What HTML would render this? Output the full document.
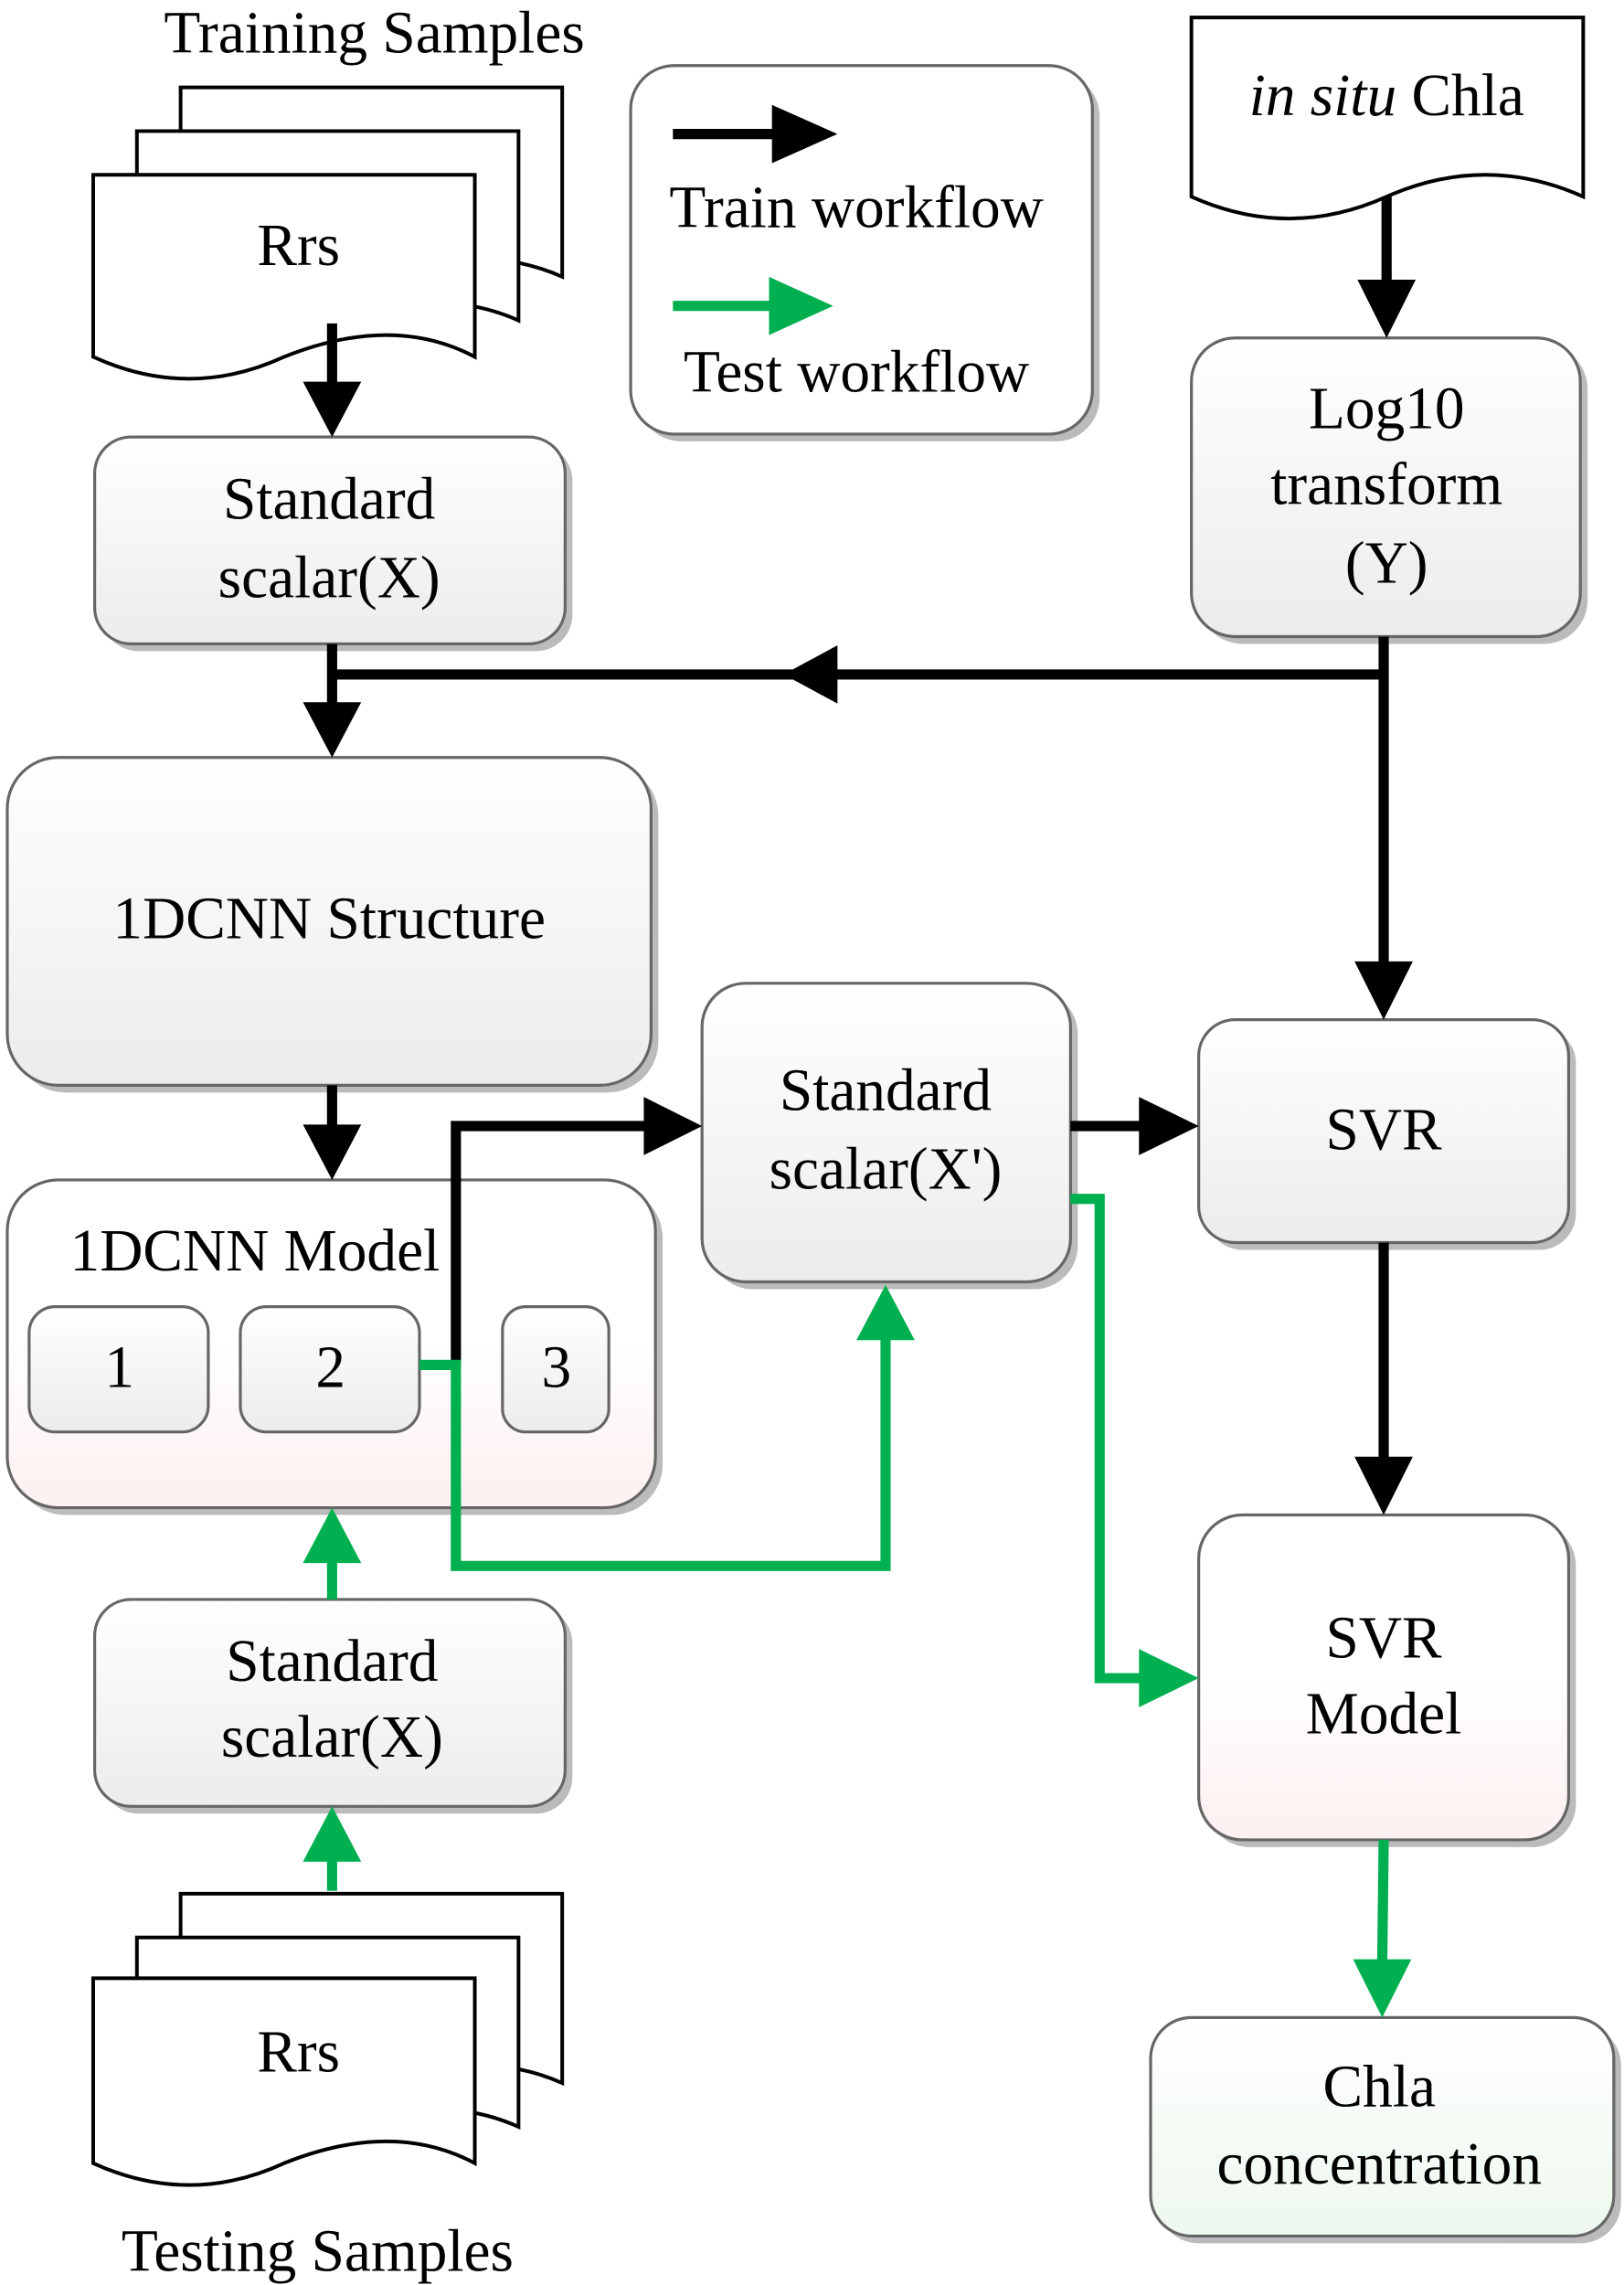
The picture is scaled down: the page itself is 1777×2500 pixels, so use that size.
<!DOCTYPE html>
<html><head><meta charset="utf-8"><style>
html,body{margin:0;padding:0;background:#fff;}
svg{display:block;}
text{font-family:"Liberation Serif",serif;fill:#000;}
</style></head><body>
<svg width="1777" height="2500" viewBox="0 0 1115 1568.6" preserveAspectRatio="none" xmlns="http://www.w3.org/2000/svg">
<defs>
<linearGradient id="g" x1="0" y1="0" x2="0" y2="1"><stop offset="0" stop-color="#fff"/><stop offset="1" stop-color="#ececec"/></linearGradient>
<linearGradient id="p" x1="0" y1="0" x2="0" y2="1"><stop offset="0" stop-color="#fff"/><stop offset="0.5" stop-color="#fff"/><stop offset="1" stop-color="#fdf0f0"/></linearGradient>
<linearGradient id="gr" x1="0" y1="0" x2="0" y2="1"><stop offset="0" stop-color="#fff"/><stop offset="1" stop-color="#eef8ee"/></linearGradient>
</defs>
<g stroke="#666" stroke-width="2">
<g fill="#bbb" stroke="none">
<rect x="70" y="305" width="323" height="142" rx="25"/>
<rect x="10" y="525" width="442" height="225" rx="35"/>
<rect x="10" y="815" width="445" height="225" rx="35"/>
<rect x="70" y="1103" width="323" height="142" rx="25"/>
<rect x="487" y="680" width="253" height="205" rx="30"/>
<rect x="438" y="50" width="317" height="253" rx="30"/>
<rect x="823" y="237" width="267" height="205" rx="30"/>
<rect x="828" y="705" width="254" height="153" rx="25"/>
<rect x="828" y="1045" width="254" height="223" rx="30"/>
<rect x="795" y="1390" width="318" height="150" rx="28"/>
</g>
<rect x="65" y="300" width="323" height="142" rx="25" fill="url(#g)"/>
<rect x="5" y="520" width="442" height="225" rx="35" fill="url(#g)"/>
<rect x="5" y="810" width="445" height="225" rx="35" fill="url(#p)"/>
<rect x="20" y="897" width="123" height="86" rx="18" fill="url(#g)"/>
<rect x="165" y="897" width="123" height="86" rx="18" fill="url(#g)"/>
<rect x="345" y="897" width="73" height="86" rx="16" fill="url(#g)"/>
<rect x="65" y="1098" width="323" height="142" rx="25" fill="url(#g)"/>
<rect x="482" y="675" width="253" height="205" rx="30" fill="url(#g)"/>
<rect x="433" y="45" width="317" height="253" rx="30" fill="#fff"/>
<rect x="818" y="232" width="267" height="205" rx="30" fill="url(#g)"/>
<rect x="823" y="700" width="254" height="153" rx="25" fill="url(#g)"/>
<rect x="823" y="1040" width="254" height="223" rx="30" fill="url(#p)"/>
<rect x="790" y="1385" width="318" height="150" rx="28" fill="url(#gr)"/>
</g>
<g fill="#fff" stroke="#000" stroke-width="2.5">
<path d="M124 60 H386 V190 Q330 165 255 190 Q190 215 124 190 Z"/>
<path d="M94 90 H356 V220 Q300 195 225 220 Q160 245 94 220 Z"/>
<path d="M64 120 H326 V245 Q270 215 195 245 Q130 275 64 245 Z"/>
<path d="M124 1300 H386 V1430 Q330 1405 255 1430 Q190 1455 124 1430 Z"/>
<path d="M94 1330 H356 V1460 Q300 1435 225 1460 Q160 1485 94 1460 Z"/>
<path d="M64 1358 H326 V1485 Q270 1455 195 1485 Q130 1515 64 1485 Z"/>
<path d="M818 12 H1087 V135 Q1020 105 952 135 Q885 165 818 135 Z"/>
</g>
<g stroke="#000" stroke-width="7" fill="none">
<line x1="228" y1="222" x2="228" y2="265"/>
<line x1="228" y1="442" x2="228" y2="485"/>
<line x1="228" y1="463" x2="950" y2="463"/>
<line x1="228" y1="745" x2="228" y2="775"/>
<polyline points="313,937 313,773 445,773"/>
<line x1="462" y1="92" x2="535" y2="92"/>
<line x1="952" y1="135" x2="952" y2="195"/>
<line x1="950" y1="437" x2="950" y2="662"/>
<line x1="735" y1="773" x2="785" y2="773"/>
<line x1="950" y1="853" x2="950" y2="1002"/>
</g>
<g fill="#000">
<polygon points="208,262 248,262 228,300"/>
<polygon points="208,482 248,482 228,520"/>
<polygon points="208,772 248,772 228,810"/>
<polygon points="442,753 442,793 482,773"/>
<polygon points="530,72 530,112 575,92"/>
<polygon points="932,192 972,192 952,232"/>
<polygon points="930,660 970,660 950,700"/>
<polygon points="782,753 782,793 823,773"/>
<polygon points="930,1000 970,1000 950,1040"/>
<polygon points="575,443 575,483 538,463"/>
</g>
<g stroke="#00b050" stroke-width="7" fill="none">
<polyline points="288,937 313,937 313,1075 608,1075 608,918"/>
<line x1="462" y1="210" x2="530" y2="210"/>
<polyline points="735,823 755,823 755,1152 785,1152"/>
<line x1="950" y1="1263" x2="949" y2="1348"/>
<line x1="228" y1="1098" x2="228" y2="1070"/>
<line x1="228" y1="1298" x2="228" y2="1275"/>
</g>
<g fill="#00b050">
<polygon points="588,920 628,920 608,882"/>
<polygon points="528,190 528,230 572,210"/>
<polygon points="782,1132 782,1172 823,1152"/>
<polygon points="929,1345 969,1345 949,1385"/>
<polygon points="208,1073 248,1073 228,1035"/>
<polygon points="208,1278 248,1278 228,1240"/>
</g>
<g font-size="41" text-anchor="middle">
<text x="257" y="36">Training Samples</text>
<text x="205" y="182">Rrs</text>
<text x="226" y="356">Standard</text>
<text x="226" y="410">scalar(X)</text>
<text x="226" y="644">1DCNN Structure</text>
<text x="175" y="872">1DCNN Model</text>
<text x="82" y="952">1</text>
<text x="227" y="952">2</text>
<text x="382" y="952">3</text>
<text x="228" y="1154">Standard</text>
<text x="228" y="1206">scalar(X)</text>
<text x="205" y="1422">Rrs</text>
<text x="218" y="1559">Testing Samples</text>
<text x="608" y="762">Standard</text>
<text x="608" y="816">scalar(X')</text>
<text x="588" y="156">Train workflow</text>
<text x="588" y="269">Test workflow</text>
<text x="952" y="79"><tspan font-style="italic">in situ</tspan> Chla</text>
<text x="952" y="294">Log10</text>
<text x="952" y="346">transform</text>
<text x="952" y="400">(Y)</text>
<text x="950" y="789">SVR</text>
<text x="950" y="1138">SVR</text>
<text x="950" y="1190">Model</text>
<text x="947" y="1446">Chla</text>
<text x="947" y="1499">concentration</text>
</g>
</svg>
</body></html>
